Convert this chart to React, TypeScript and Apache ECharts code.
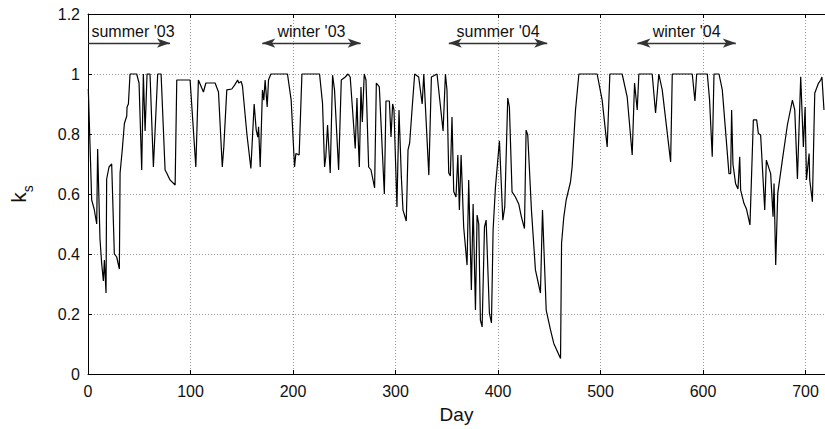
import React, { useEffect, useRef } from "react";
import * as echarts from "echarts";

const days = [
  0.3, 3.6, 6, 8.5, 9.4, 11.7, 13.3, 15, 16, 17.6, 18.2, 20.5, 23.1, 25.7, 28, 30.6, 31.3, 33.5, 35.5, 37.8, 38.1, 39.4, 41, 47.5, 49.8, 52.4, 54, 55.7, 57.6, 60.5, 63.8, 68, 71.3, 75.2, 76.8, 80, 85, 86.6, 99.6, 105.2, 107.7, 112.6, 115,
  124, 127.3, 131, 132.5, 135.4, 140.3, 143, 146, 147, 149.4, 150.7, 155, 158.9, 162.1, 164.1, 165.7, 166.4, 168, 170.2, 171.5, 172.8, 174.8, 176.1, 178.4, 194.6, 198.2, 201.5, 202.8, 206, 208.7, 225.9, 228.8, 230.8, 232, 233.7, 236.3,
  238.6, 240.5, 244.5, 247.1, 251, 253.6, 255.8, 258.1, 260.7, 262.4, 263.4, 264.7, 266.3, 267.6, 269.5, 271.2, 273.8, 276.1, 279.6, 281.3, 284.2, 289.1, 290.7, 294, 295.6, 297.2, 298.5, 301.4, 303.4, 305.7, 307.3, 310.5, 312.2, 313.8, 316.1, 318.7, 322.6, 326, 327.6, 332.5, 335, 340.5, 346.4, 348.7,
  350.2, 351.9, 353.5, 355.1, 356.8, 359, 360.8, 362.3, 364, 366.5, 369.8, 371.4, 374, 375.7, 378, 379.6, 381.2, 382.8, 384.5, 386.8, 388.4, 391.6, 393.6, 395.2, 397.5, 401.4, 404.7, 406.6, 409.5, 411.1, 413.7, 417, 420.2, 422.8, 425.8, 427.4, 429, 432.6, 436.5, 441.4, 443.4, 447, 451.2, 454.4, 461, 462, 464.2, 466.5, 470.7,
  472.3, 475.6, 478.9, 496.7, 501.6, 506.5, 509.1, 521.1, 526, 530.9, 533.2, 535.8, 537.4, 550.4, 553.7, 556.9, 560.2, 568.4, 570, 589.5, 592.1, 593.8, 604.2, 606.4, 609, 610.7, 615.6, 618.8, 625.3, 627, 627.9, 629.2, 631.8, 634.1, 635.8, 636.7, 640, 642.3, 645.8, 649.1, 652.3, 654, 656.2, 660.2, 661.8, 666, 668.3, 669.3, 670.9, 672.9, 677.4, 682.3, 687.2, 689.5, 692.1, 695.3, 697.9, 699.6, 700.9, 703.5, 704.1, 706.7, 709, 712.6, 714.8, 716, 718
];

const ks = [
  0.95, 0.58, 0.55, 0.5, 0.75, 0.45, 0.37, 0.31, 0.38, 0.27, 0.65, 0.69, 0.7, 0.4, 0.39, 0.35, 0.67, 0.75, 0.835, 0.86, 0.89, 0.9, 1.0, 1.0, 0.97, 0.68, 1.0, 0.81, 1.0, 1.0, 0.69, 1.0, 1.0, 0.68, 0.67, 0.647, 0.63, 0.98, 0.98, 0.69, 0.98, 0.94, 0.97,
  0.97, 0.94, 0.69, 0.757, 0.947, 0.95, 0.963, 0.98, 0.97, 0.975, 0.96, 0.8, 0.685, 0.9, 0.813, 0.79, 0.824, 0.69, 0.947, 0.913, 0.98, 0.89, 0.98, 1.0, 1.0, 0.913, 0.69, 0.735, 0.73, 1.0, 1.0, 0.902, 0.69, 0.724, 0.83, 0.67,
  0.996, 0.947, 0.68, 0.98, 0.99, 1.0, 0.99, 0.88, 0.752, 0.92, 0.8, 0.69, 0.957, 0.84, 1.0, 0.98, 0.69, 0.68, 0.62, 0.97, 0.957, 0.6, 0.91, 0.91, 0.79, 0.9, 0.88, 0.557, 0.88, 0.657, 0.546, 0.51, 0.747, 0.77, 0.88, 1.0, 0.99, 0.9, 1.0, 0.663, 0.99, 1.0, 0.81, 1.0,
  0.947, 0.67, 0.66, 0.857, 0.608, 0.59, 0.73, 0.547, 0.73, 0.49, 0.363, 0.647, 0.28, 0.567, 0.213, 0.53, 0.5, 0.18, 0.157, 0.49, 0.513, 0.203, 0.17, 0.48, 0.623, 0.777, 0.513, 0.557, 0.92, 0.89, 0.607, 0.59, 0.567, 0.524, 0.485, 0.813, 0.797, 0.547, 0.347, 0.27, 0.547, 0.213, 0.147, 0.102, 0.052, 0.436, 0.524, 0.58, 0.64,
  0.69, 0.88, 1.0, 1.0, 0.913, 0.757, 1.0, 1.0, 0.924, 0.73, 0.97, 0.88, 1.0, 1.0, 0.87, 1.0, 0.947, 0.707, 1.0, 1.0, 0.91, 1.0, 1.0, 0.913, 0.724, 1.0, 1.0, 0.947, 0.668, 0.668, 0.88, 0.7, 0.634, 0.617, 0.724, 0.613, 0.568, 0.551, 0.497, 0.847, 0.847, 0.802, 0.797, 0.547, 0.713, 0.668, 0.524, 0.635, 0.363, 0.602, 0.713, 0.83, 0.913, 0.88, 0.65, 0.991, 0.757, 0.89, 0.647, 0.735, 0.647, 0.574, 0.936, 0.969, 0.98, 0.99, 0.88
];

const xTicks = [0, 100, 200, 300, 400, 500, 600, 700];
const yTicks = [0, 0.2, 0.4, 0.6, 0.8, 1, 1.2];

const seasonLabels = ["summer '03", "winter '03", "summer '04", "winter '04"];
const seasonStart = [0, 170, 352, 536];
const seasonEnd = [80, 266, 448, 632];
const seasonBothArrows = [false, true, true, true];
const seasonLevel = 1.103;

const FONT = "'Liberation Sans', Arial, Helvetica, sans-serif";

export default function App() {
  const ref = useRef<HTMLDivElement>(null);
  useEffect(() => {
    if (!ref.current) return;
    const chart = echarts.init(ref.current, undefined, { renderer: "svg" });
    const lineData = days.map((d, i) => [d, ks[i]]);
    const markData = seasonLabels.map((name, i) => [
      {
        name,
        coord: [seasonStart[i], seasonLevel],
        symbol: seasonBothArrows[i] ? "arrow" : "none",
        label: seasonBothArrows[i] ? undefined : { offset: [4, 0] },
      },
      { coord: [seasonEnd[i], seasonLevel], symbol: "arrow" },
    ]);
    const xMax = 719;
    chart.setOption({
      animation: false,
      textStyle: { fontFamily: FONT },
      grid: { left: 88, right: 0, top: 14, bottom: 55, containLabel: false },
      xAxis: [
        {
          type: "value",
          min: 0,
          max: xMax,
          interval: 100,
          name: "Day",
          nameLocation: "middle",
          nameGap: 31,
          nameTextStyle: { fontSize: 19, color: "#111", fontFamily: FONT },
          axisLine: { show: true, onZero: false, lineStyle: { color: "#000", width: 1 } },
          axisTick: { show: true, inside: true, length: 4, lineStyle: { color: "#000" } },
          axisLabel: {
            fontSize: 16,
            color: "#111",
            margin: 9,
            fontFamily: FONT,
            showMaxLabel: false,
            formatter: (v: number) => (xTicks.includes(v) ? String(v) : ""),
          },
          splitLine: { show: true, lineStyle: { color: "#9a9a9a", type: [1, 2], width: 1 } },
        },
        {
          type: "value",
          position: "top",
          min: 0,
          max: xMax,
          interval: 100,
          axisLine: { show: true, onZero: false, lineStyle: { color: "#000", width: 1 } },
          axisTick: { show: true, inside: true, length: 4, lineStyle: { color: "#000" } },
          axisLabel: { show: false },
          splitLine: { show: false },
        },
      ],
      yAxis: {
        type: "value",
        min: 0,
        max: 1.2,
        interval: 0.2,
        name: "{k|k}{s|s}",
        nameLocation: "middle",
        nameRotate: 90,
        nameGap: 53,
        nameTextStyle: {
          rich: {
            k: { fontSize: 21, color: "#111", fontFamily: FONT, lineHeight: 20, verticalAlign: "top" },
            s: { fontSize: 14, color: "#111", fontFamily: FONT, lineHeight: 27, verticalAlign: "bottom" },
          },
        },
        axisLine: { show: true, onZero: false, lineStyle: { color: "#000", width: 1 } },
        axisTick: { show: true, inside: true, length: 4, lineStyle: { color: "#000" } },
        axisLabel: {
          fontSize: 16,
          color: "#111",
          margin: 8,
          fontFamily: FONT,
          formatter: (v: number) => {
            const r = Math.round(v * 10) / 10;
            return yTicks.some((t) => Math.abs(t - r) < 1e-9) ? String(r) : "";
          },
        },
        splitLine: { show: true, lineStyle: { color: "#9a9a9a", type: [1, 2], width: 1 } },
      },
      series: [
        {
          type: "line",
          data: lineData,
          showSymbol: false,
          symbol: "none",
          lineStyle: { color: "#000", width: 1.2 },
          clip: true,
          markLine: {
            silent: true,
            symbolSize: [7, 13],
            lineStyle: { color: "#333", width: 1.3, type: "solid" },
            label: {
              show: true,
              position: "middle",
              distance: 4,
              fontSize: 16,
              color: "#111",
              fontFamily: FONT,
              formatter: (p: any) => p.name,
            },
            data: markData,
          },
        },
      ],
    });
    return () => chart.dispose();
  }, []);
  return (
    <div
      ref={ref}
      style={{ position: "fixed", left: 0, top: 0, width: 825, height: 429, background: "#fff" }}
    />
  );
}
